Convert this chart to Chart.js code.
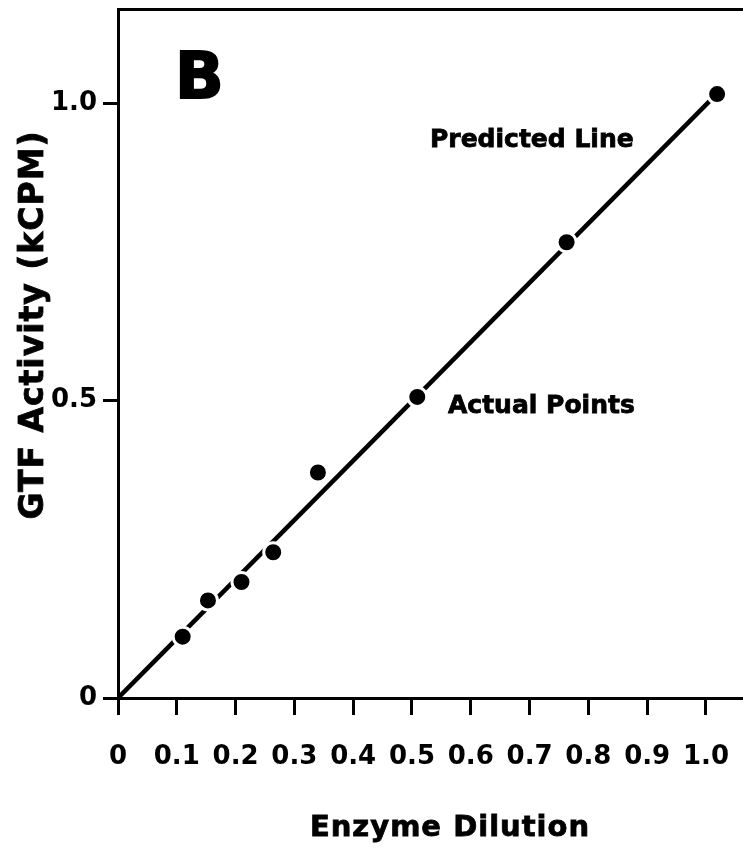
<!DOCTYPE html>
<html>
<head>
<meta charset="utf-8">
<script src="https://cdn.jsdelivr.net/npm/chart.js"></script>
<style>
  body { margin: 0; background: #fff; overflow: hidden; }
  canvas { display: block; }
</style>
</head>
<body>
<canvas id="myChart" width="743" height="849"></canvas>
<script>
// values
const dilution = [0.11, 0.153, 0.21, 0.264, 0.34, 0.509, 0.763, 1.019];
const activity = [0.103, 0.164, 0.195, 0.245, 0.379, 0.506, 0.766, 1.015];
const lineX = [0, 1.015];
const lineY = [0, 1.012];
const xTicks = [0, 0.1, 0.2, 0.3, 0.4, 0.5, 0.6, 0.7, 0.8, 0.9, 1.0];
const yTicks = [0, 0.5, 1.0];

const FONT = "'DejaVu Sans', sans-serif";

const labels = {
  id: 'labels',
  afterDraw(chart) {
    const c = chart.ctx;
    c.save();
    c.fillStyle = '#000';
    c.strokeStyle = '#000';
    c.textAlign = 'left';
    c.textBaseline = 'alphabetic';

    c.font = 'bold 64px ' + FONT;
    c.lineWidth = 2;
    c.fillText('B', 175, 98);
    c.strokeText('B', 175, 98);

    c.lineWidth = 0.8;
    c.font = 'bold 25px ' + FONT;
    c.fillText('Predicted Line', 430, 147);
    c.strokeText('Predicted Line', 430, 147);
    c.fillText('Actual Points', 448, 413);
    c.strokeText('Actual Points', 448, 413);

    c.letterSpacing = '1px';
    c.font = 'bold 29px ' + FONT;
    c.textAlign = 'center';
    c.fillText('Enzyme Dilution', 450, 836);
    c.strokeText('Enzyme Dilution', 450, 836);

    c.translate(43, 325);
    c.rotate(-Math.PI / 2);
    c.font = 'bold 33px ' + FONT;
    c.fillText('GTF Activity (kCPM)', 0, 0);
    c.strokeText('GTF Activity (kCPM)', 0, 0);
    c.restore();
  }
};

const ctx = document.getElementById('myChart');

new Chart(ctx, {
  type: 'scatter',
  data: {
    datasets: [{
      data: dilution.map((x, i) => ({x: x, y: activity[i]})),
      backgroundColor: '#000',
      borderColor: '#fff',
      borderWidth: 3,
      pointRadius: 9.5,
      order: 0
    }, {
      type: 'line',
      data: lineX.map((x, i) => ({x: x, y: lineY[i]})),
      borderColor: '#000',
      borderWidth: 4.5,
      pointRadius: 0,
      order: 1
    }]
  },
  options: {
    responsive: false,
    devicePixelRatio: 1,
    animation: false,
    layout: { padding: 0, autoPadding: false },
    plugins: {
      legend: { display: false },
      tooltip: { enabled: false }
    },
    scales: {
      x: {
        type: 'linear',
        min: 0,
        max: 1.063,
        afterBuildTicks: s => { s.ticks = xTicks.map(v => ({value: v})); },
        afterFit: s => { s.height = 151; s.paddingLeft = 0; s.paddingRight = 0; },
        ticks: {
          color: '#000',
          padding: 27,
          maxRotation: 0,
          autoSkip: false,
          font: { family: FONT, size: 26, weight: 'bold' },
          callback: v => v === 0 ? '0' : v.toFixed(1)
        },
        grid: { drawOnChartArea: false, tickLength: 17, tickWidth: 3, tickColor: '#000' },
        border: { color: '#000', width: 3 }
      },
      xTop: {
        type: 'linear',
        position: 'top',
        min: 0,
        max: 1.063,
        afterFit: s => { s.height = 9; s.paddingLeft = 0; s.paddingRight = 0; },
        ticks: { display: false },
        grid: { display: false },
        border: { color: '#000', width: 3 }
      },
      y: {
        min: 0,
        max: 1.158,
        afterBuildTicks: s => { s.ticks = yTicks.map(v => ({value: v})); },
        afterFit: s => { s.width = 118; s.paddingTop = 0; s.paddingBottom = 0; },
        ticks: {
          color: '#000',
          padding: 6,
          font: { family: FONT, size: 26, weight: 'bold' },
          callback: v => v === 0 ? '0' : v.toFixed(1)
        },
        grid: { drawOnChartArea: false, tickLength: 15, tickWidth: 3, tickColor: '#000' },
        border: { color: '#000', width: 3 }
      }
    }
  },
  plugins: [labels]
});
</script>
</body>
</html>
